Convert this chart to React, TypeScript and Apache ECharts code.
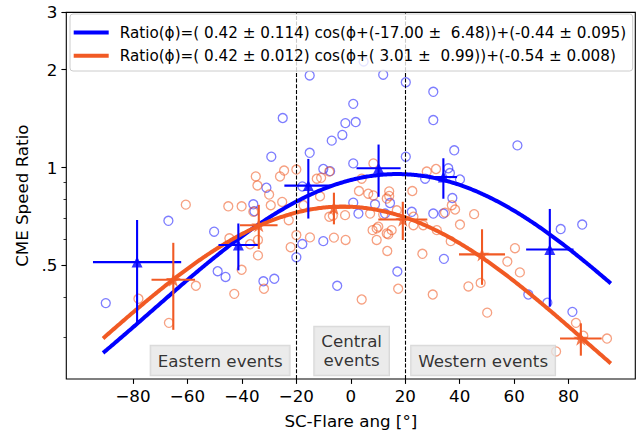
import React, { useEffect, useRef } from 'react';
import * as echarts from 'echarts';

// ---- individual events (SC-flare angle [deg], CME speed ratio) ----
const blueX = [-90.0, -67.0, -50.2, -48.9, -46.0, -35.8, -35.4, -31.0, -29.2, -25.0, -32.1, -28.1, -15.1, -15.1, -17.8, -17.8, -20.0, -10.1, -5.0, -10.1, -7.0, -3.1, -2.0, 1.8, 0.9, 0.9, 0.9, -7.6, 11.9, 20.2, 20.2, 8.9, 14.4, 2.8, 12.6, 22.4, 4.7, 30.3, 30.3, 38.0, 61.2, 35.8, 36.4, 40.1, 27.3, 37.3, 30.3, 34.0, 77.1, 85.0, 34.2, 17.1, 65.2, 72.2, 81.4];
const blueY = [0.383, 0.686, 0.635, 0.480, 0.461, 0.771, 0.734, 0.867, 1.08, 1.42, 0.447, 0.455, 1.92, 1.11, 0.875, 0.582, 0.530, 0.594, 0.433, 0.99, 1.21, 1.26, 1.37, 1.38, 1.57, 1.03, 0.780, 0.975, 1.93, 1.83, 1.08, 0.771, 0.778, 0.722, 0.722, 0.731, 2.12, 1.71, 1.40, 1.13, 1.17, 0.995, 0.962, 0.919, 0.924, 0.806, 0.722, 0.722, 0.647, 0.668, 0.524, 0.479, 0.407, 0.384, 0.360];

const orangeX = [-78.0, -66.8, -56.9, -42.8, -40.1, -60.6, -45.0, -40.1, -44.6, -34.9, -34.3, -30.0, -29.4, -26.0, -24.5, -25.2, -22.8, -20.0, -20.0, -22.1, -15.0, -34.1, -37.0, -34.1, -31.9, -12.5, -10.9, -11.3, -7.9, -7.9, -6.6, -2.1, -6.2, -1.9, 3.0, 4.0, 8.3, 4.0, 6.4, 8.3, 14.1, 14.1, 13.2, 22.6, 27.9, 31.3, 7.1, 11.9, 10.1, 8.0, 13.8, 15.0, 9.5, 13.4, 26.3, 23.0, 26.6, 31.6, 34.6, 38.3, 37.1, 40.1, 45.3, 36.7, 60.3, 57.5, 62.1, 43.2, 47.7, 30.1, 50.1, 17.4, 82.7, 85.4, 94.1, 75.4, 23.0, 9.5, 13.2, -17.4, -35.8, 16.9];
const orangeY = [0.395, 0.333, 0.433, 0.409, 0.485, 0.769, 0.760, 0.760, 0.606, 0.939, 0.881, 0.826, 0.766, 0.939, 0.979, 0.784, 0.689, 0.986, 0.620, 0.569, 0.610, 0.599, 0.581, 0.537, 0.424, 0.924, 0.930, 0.816, 0.972, 0.706, 0.711, 0.714, 0.609, 0.599, 0.847, 0.393, 1.03, 0.924, 0.831, 0.821, 0.845, 0.818, 0.803, 0.847, 0.972, 0.99, 0.722, 0.717, 0.658, 0.642, 0.623, 0.642, 0.599, 0.554, 0.543, 0.665, 0.665, 0.642, 0.727, 0.743, 0.766, 0.668, 0.719, 0.594, 0.565, 0.514, 0.476, 0.431, 0.442, 0.407, 0.358, 0.424, 0.333, 0.304, 0.298, 0.272, 0.706, 0.650, 0.627, 0.766, 0.731, 0.739];

// ---- binned means with errors ----
const blueMeanX = [-78.5, -41.3, -15.6, 10.2, 34.0, 73.1];
const blueMeanY = [0.512, 0.578, 0.88, 0.995, 0.935, 0.56];
const blueMeanXErr = [16.2, 7.3, 8.8, 8.1, 5.0, 8.7];
const blueMeanYErr = [0.178, 0.095, 0.183, 0.182, 0.133, 0.186];

const orangeMeanX = [-65.2, -33.8, -6.2, 19.1, 48.2, 84.5];
const orangeMeanY = [0.452, 0.665, 0.753, 0.692, 0.541, 0.298];
const orangeMeanXErr = [8.0, 6.9, 6.0, 9.0, 8.45, 7.65];
const orangeMeanYErr = [0.135, 0.103, 0.084, 0.093, 0.105, 0.034];

// ---- fits: log10(Ratio) = A cos(phi + B) + C ----
const blueFit = { A: 0.42, B: -17.0, C: -0.44 };
const orangeFit = { A: 0.42, B: 3.01, C: -0.54 };
const fitPhiStart = -91;
const fitPhiEnd = 95.5;
const blueName = 'Ratio(ϕ)=( 0.42 ± 0.114) cos(ϕ+(-17.00 ± \u00a06.48))+(-0.44 ± 0.095)';
const orangeName = 'Ratio(ϕ)=( 0.42 ± 0.012) cos(ϕ+( 3.01 ± \u00a00.99))+(-0.54 ± 0.008)';

// ---- axes ----
const xTicks = [-80, -60, -40, -20, 0, 20, 40, 60, 80];
const xMin = -104.5;
const xMax = 104.5;
const yMin = 0.2238;
const yMax = 3;
const yMajorTicks = [0.5, 1, 2, 3];
const yMajorLabels = ['.5', '1', '2', '3'];
const yMinorTicks = [0.3, 0.4, 0.6, 0.7, 0.8, 0.9];

// ---- regions ----
const regionBounds = [-20, 20];
const regionLabels = ['Eastern events', 'Central\nevents', 'Western events'];
const regionLabelX = [-48, 0.3, 48.6];
const regionLabelY = [0.255, 0.273, 0.255];

const BLUE = '#0000ff';
const ORANGE = '#f15a24';
const FONT = 'DejaVu Sans';
const AXIS_FS = 16.7;
const LEGEND_FS = 15.2;
const L = (v: number) => Math.log10(v);

function fitCurve(f: { A: number; B: number; C: number }) {
  const pts: number[][] = [];
  for (let p = fitPhiStart; p <= fitPhiEnd + 1e-9; p += 0.5) {
    pts.push([p, f.A * Math.cos(((p + f.B) * Math.PI) / 180) + f.C]);
  }
  return pts;
}

function errorBarSeries(xs: number[], ys: number[], xe: number[], ye: number[], color: string) {
  return {
    type: 'custom',
    z: 4,
    silent: true,
    data: xs.map((x, i) => [x, L(ys[i]), xe[i], ys[i], ye[i]]),
    renderItem: (params: any, api: any) => {
      const x = api.value(0);
      const y = api.value(3);
      const dx = api.value(2);
      const dy = api.value(4);
      const l = api.coord([x - dx, L(y)]);
      const r = api.coord([x + dx, L(y)]);
      const t = api.coord([x, L(y + dy)]);
      const b = api.coord([x, L(y - dy)]);
      const style = { stroke: color, lineWidth: 2.1 };
      return {
        type: 'group',
        children: [
          { type: 'line', shape: { x1: l[0], y1: l[1], x2: r[0], y2: r[1] }, style },
          { type: 'line', shape: { x1: t[0], y1: t[1], x2: b[0], y2: b[1] }, style },
        ],
      };
    },
  };
}

const STAR = 'path://M0,-1 L0.2245,-0.309 L0.951,-0.309 L0.363,0.118 L0.588,0.809 L0,0.382 L-0.588,0.809 L-0.363,0.118 L-0.951,-0.309 L-0.2245,-0.309 Z';

export default function App() {
  const ref = useRef<HTMLDivElement>(null);
  useEffect(() => {
    if (!ref.current) return;
    const chart = echarts.init(ref.current, undefined, { renderer: 'svg' });
    const axisText = { fontFamily: FONT, fontSize: AXIS_FS, color: '#000' };
    const option: any = {
      animation: false,
      textStyle: { fontFamily: FONT },
      grid: { left: 66.3, top: 12.4, width: 569, height: 369.3, show: true, borderColor: '#000', borderWidth: 1.1, backgroundColor: 'transparent' },
      legend: {
        data: [blueName, orangeName],
        orient: 'vertical',
        left: 70,
        top: 14,
        z: 20,
        icon: 'rect',
        itemWidth: 35,
        itemHeight: 4,
        itemGap: 6.2,
        padding: [10, 6.5, 6.8, 3.7],
        backgroundColor: 'rgba(255,255,255,0.8)',
        borderColor: '#cccccc',
        borderWidth: 1,
        borderRadius: 3,
        selectedMode: false,
        textStyle: { fontFamily: FONT, fontSize: LEGEND_FS, color: '#000', lineHeight: 17, padding: [0, 0, 0, 6] },
      },
      xAxis: {
        type: 'value',
        min: xMin,
        max: xMax,
        name: 'SC-Flare ang [°]',
        nameLocation: 'middle',
        nameGap: 33,
        nameTextStyle: axisText,
        axisLine: { show: false, onZero: false },
        splitLine: { show: false },
        axisTick: { show: true, customValues: xTicks, length: 4.9, lineStyle: { color: '#000', width: 1.1 } },
        axisLabel: { ...axisText, customValues: xTicks, margin: 8.5, formatter: (v: number) => String(Math.round(v)).replace('-', '\u2212') },
      },
      yAxis: [
        {
          type: 'value',
          min: L(yMin),
          max: L(yMax),
          name: 'CME Speed Ratio',
          nameLocation: 'middle',
          nameGap: 36,
          nameTextStyle: axisText,
          axisLine: { show: false, onZero: false },
          splitLine: { show: false },
          axisTick: { show: true, customValues: yMajorTicks.map(L), length: 4.9, lineStyle: { color: '#000', width: 1.1 } },
          axisLabel: {
            ...axisText,
            margin: 9,
            customValues: yMajorTicks.map(L),
            formatter: (v: number) => {
              let best = 0;
              yMajorTicks.forEach((t, i) => { if (Math.abs(L(t) - v) < Math.abs(L(yMajorTicks[best]) - v)) best = i; });
              return yMajorLabels[best];
            },
          },
        },
        {
          type: 'value',
          min: L(yMin),
          max: L(yMax),
          position: 'left',
          axisLine: { show: false, onZero: false },
          splitLine: { show: false },
          axisTick: { show: true, customValues: yMinorTicks.map(L), length: 2.8, lineStyle: { color: '#000', width: 0.8 } },
          axisLabel: { show: false },
        },
      ],
      series: [
        {
          type: 'scatter',
          z: 1,
          silent: true,
          symbol: 'circle',
          symbolSize: 9,
          itemStyle: { color: 'rgba(0,0,0,0)', borderColor: 'rgba(30,30,255,0.72)', borderWidth: 1.3 },
          data: blueX.map((x, i) => [x, L(blueY[i])]),
        },
        {
          type: 'scatter',
          z: 1,
          silent: true,
          symbol: 'circle',
          symbolSize: 9,
          itemStyle: { color: 'rgba(0,0,0,0)', borderColor: 'rgba(240,90,36,0.72)', borderWidth: 1.3 },
          data: orangeX.map((x, i) => [x, L(orangeY[i])]),
          markLine: {
            silent: true,
            symbol: 'none',
            label: { show: false },
            lineStyle: { color: '#000', type: [4, 1.7], width: 1.1 },
            data: regionBounds.map((b) => ({ xAxis: b })),
          },
        },
        {
          type: 'line',
          name: blueName,
          z: 3,
          silent: true,
          symbol: 'none',
          showSymbol: false,
          color: BLUE,
          lineStyle: { color: BLUE, width: 4 },
          data: fitCurve(blueFit),
        },
        {
          type: 'line',
          name: orangeName,
          z: 3,
          silent: true,
          symbol: 'none',
          showSymbol: false,
          color: ORANGE,
          lineStyle: { color: ORANGE, width: 4 },
          data: fitCurve(orangeFit),
        },
        errorBarSeries(blueMeanX, blueMeanY, blueMeanXErr, blueMeanYErr, BLUE),
        errorBarSeries(orangeMeanX, orangeMeanY, orangeMeanXErr, orangeMeanYErr, ORANGE),
        {
          type: 'scatter',
          z: 5,
          silent: true,
          symbol: 'triangle',
          symbolSize: 11,
          itemStyle: { color: BLUE },
          data: blueMeanX.map((x, i) => [x, L(blueMeanY[i])]),
        },
        {
          type: 'scatter',
          z: 5,
          silent: true,
          symbol: STAR,
          symbolKeepAspect: true,
          symbolSize: 15,
          itemStyle: { color: ORANGE },
          data: orangeMeanX.map((x, i) => [x, L(orangeMeanY[i])]),
        },
        {
          type: 'scatter',
          z: 6,
          silent: true,
          symbolSize: 1,
          itemStyle: { color: 'rgba(0,0,0,0)' },
          data: regionLabels.map((n, i) => ({ name: n, value: [regionLabelX[i], L(regionLabelY[i])] })),
          label: {
            show: true,
            position: 'inside',
            formatter: (p: any) => p.name,
            fontFamily: FONT,
            fontSize: AXIS_FS,
            color: '#000',
            lineHeight: 19,
            backgroundColor: '#e6e6e6',
            borderColor: '#cfcfcf',
            borderWidth: 1,
            padding: [4.5, 7, 6, 7],
          },
        },
      ],
    };
    chart.setOption(option);
    return () => chart.dispose();
  }, []);
  return <div ref={ref} style={{ width: 641, height: 434, position: 'absolute', left: 0, top: 0 }} />;
}
